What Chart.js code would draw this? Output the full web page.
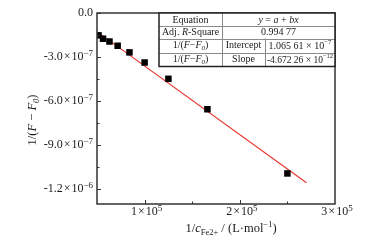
<!DOCTYPE html>
<html><head><meta charset="utf-8">
<script src="https://cdn.jsdelivr.net/npm/chart.js@4.4.1/dist/chart.umd.min.js"></script>
<style>html,body{margin:0;padding:0;background:#fff;} #wrap{width:370px;height:242px;position:relative;}</style>
</head><body><div id="wrap"><canvas id="c" width="370" height="242"></canvas></div>
<script>
// ---- data ----
const xValues = [51600, 56300, 63100, 71700, 84100, 100000, 125000, 166000, 250000];
const yValues = [-1.52e-7, -1.75e-7, -1.94e-7, -2.23e-7, -2.68e-7, -3.37e-7, -4.48e-7, -6.55e-7, -1.092e-6];
const fitX = [50000, 270000];
const fitY = [-1.27e-7, -1.155e-6];
const xTickValues = [100000, 200000, 300000];
const xTickLabels = ['1×10^5', '2×10^5', '3×10^5'];
const yTickValues = [0, -3e-7, -6e-7, -9e-7, -1.2e-6];
const yTickLabels = ['0.0', '-3.0×10^−7', '-6.0×10^−7', '-9.0×10^−7', '-1.2×10^−6'];
const eqText = [['y','i'],[' = '],['a','i'],[' + '],['bx','i']];
const adjR2 = '0.994 77';
const interceptText = [['1.065 61 × 10'],['−7','sup']];
const slopeText = [['-4.672 26 × 10'],['−12','sup']];

const SERIF = '"Liberation Serif", "Times New Roman", serif';
const TXT = '#1a1a1a';

function segFont(st, size) {
  const small = (st === 'sub' || st === 'sup' || st === 'isub' || st === 'tsup');
  const fs = st === 'tsup' ? size * 0.75 : (small ? size * 0.68 : size);
  return {font: ((st === 'i' || st === 'isub') ? 'italic ' : '') + fs + 'px ' + SERIF, small};
}
function richWidth(ctx, segs, size) {
  let w = 0;
  for (const s of segs) {
    const st = s[1] || '';
    ctx.font = segFont(st, size).font;
    w += ctx.measureText(s[0]).width + (st === 'pad' ? 2 : 0);
  }
  return w;
}
function drawRich(ctx, segs, x, y, size, align) {
  const w = richWidth(ctx, segs, size);
  let cx = align === 'center' ? x - w / 2 : (align === 'right' ? x - w : x);
  ctx.textBaseline = 'middle';
  ctx.textAlign = 'left';
  for (const s of segs) {
    const st = s[1] || '';
    ctx.font = segFont(st, size).font;
    let dy = 0;
    if (st === 'sub' || st === 'isub') dy = size * 0.3;
    if (st === 'sup') dy = -size * 0.35;
    if (st === 'tsup') dy = -size * 0.3;
    if (st === 'pad') cx += 1;
    ctx.fillText(s[0], cx, y + dy);
    cx += ctx.measureText(s[0]).width + (st === 'pad' ? 1 : 0);
  }
}
function tickSegs(label) {
  const i = label.indexOf('×');
  if (i < 0) return [[label]];
  const parts = label.slice(i + 1).split('^');
  return [[label.slice(0, i)], ['×', 'pad'], [parts[0]], [parts[1], 'tsup']];
}

const decor = {
  id: 'decor',
  afterDraw(chart) {
    const ctx = chart.ctx;
    const a = chart.chartArea;
    const xs = chart.scales.x, ys = chart.scales.y;
    ctx.save();
    // ticks (inward)
    ctx.strokeStyle = '#333';
    ctx.lineWidth = 1;
    ys.ticks.forEach(t => {
      const n = Math.round(t.value / 1e-7);
      if (Math.abs(t.value / 1.5e-7 - Math.round(t.value / 1.5e-7)) > 1e-6) return;
      const major = (n % 3 === 0);
      const py = Math.round(ys.getPixelForValue(t.value)) + 0.5;
      ctx.beginPath(); ctx.moveTo(a.left, py); ctx.lineTo(a.left + (major ? 4 : 2.5), py); ctx.stroke();
    });
    xs.ticks.forEach(t => {
      const n = Math.round(t.value / 5e4);
      if (n <= 1 || n >= 6) return;
      const major = (n % 2 === 0);
      const px = Math.round(xs.getPixelForValue(t.value)) + 0.5;
      ctx.beginPath(); ctx.moveTo(px, a.bottom); ctx.lineTo(px, a.bottom - (major ? 4 : 2.5)); ctx.stroke();
    });
    // frame
    ctx.strokeStyle = '#333';
    ctx.lineWidth = 1.5;
    ctx.strokeRect(a.left, a.top, a.right - a.left, a.bottom - a.top);

    // tick labels
    ctx.fillStyle = TXT;
    yTickValues.forEach((v, i) => {
      drawRich(ctx, tickSegs(yTickLabels[i]), a.left - 4, ys.getPixelForValue(v), 12, 'right');
    });
    xTickValues.forEach((v, i) => {
      drawRich(ctx, tickSegs(xTickLabels[i]), xs.getPixelForValue(v) + 2, a.bottom + 8, 12, 'center');
    });

    // table
    const x3 = a.right, x0 = x3 - 176, x1 = x0 + 63, x2 = x1 + 43;
    const y0 = a.top, y1 = y0 + 13, y2 = y1 + 12.5, y3 = y2 + 14, y4 = y3 + 14;
    ctx.fillStyle = '#fff';
    ctx.fillRect(x0, y0, x3 - x0, y4 - y0);
    ctx.strokeStyle = '#8a8a8a';
    ctx.lineWidth = 1;
    ctx.beginPath();
    [y1, y2, y3].forEach(yy => { ctx.moveTo(x0, Math.round(yy) + 0.5); ctx.lineTo(x3, Math.round(yy) + 0.5); });
    ctx.moveTo(Math.round(x1) + 0.5, y0); ctx.lineTo(Math.round(x1) + 0.5, y4);
    ctx.moveTo(Math.round(x2) + 0.5, y2); ctx.lineTo(Math.round(x2) + 0.5, y4);
    ctx.stroke();
    ctx.strokeStyle = '#222';
    ctx.lineWidth = 1.5;
    ctx.strokeRect(x0, y0, x3 - x0, y4 - y0);

    ctx.fillStyle = TXT;
    const fs = 10;
    const fLabel = [['1/('],['F','i'],['−'],['F','i'],['0','isub'],[')']];
    drawRich(ctx, [['Equation']], (x0 + x1) / 2, (y0 + y1) / 2 + 0.5, fs, 'center');
    drawRich(ctx, eqText, (x1 + x3) / 2, (y0 + y1) / 2 + 0.5, fs, 'center');
    drawRich(ctx, [['Adj. '],['R','i'],['-Square']], (x0 + x1) / 2, (y1 + y2) / 2 + 0.5, fs, 'center');
    drawRich(ctx, [[adjR2]], (x1 + x3) / 2, (y1 + y2) / 2 + 0.5, fs, 'center');
    drawRich(ctx, fLabel, (x0 + x1) / 2, (y2 + y3) / 2, fs, 'center');
    drawRich(ctx, [['Intercept']], (x1 + x2) / 2, (y2 + y3) / 2, fs, 'center');
    drawRich(ctx, interceptText, (x2 + x3) / 2, (y2 + y3) / 2 + 0.5, fs, 'center');
    drawRich(ctx, fLabel, (x0 + x1) / 2, (y3 + y4) / 2, fs, 'center');
    drawRich(ctx, [['Slope']], (x1 + x2) / 2, (y3 + y4) / 2, fs, 'center');
    drawRich(ctx, slopeText, (x2 + x3) / 2, (y3 + y4) / 2 + 0.5, 9.5, 'center');

    // axis titles
    drawRich(ctx, [['1/'],['c','i'],['Fe2+','sub'],[' / (L·mol'],['−1','sup'],[')']], 231, 229, 12.5, 'center');
    ctx.translate(33, 120);
    ctx.rotate(-Math.PI / 2);
    drawRich(ctx, [['1/('],['F','i'],[' − '],['F','i'],['0','isub'],[')']], 0, 0, 12.5, 'center');
    ctx.restore();
  }
};

new Chart(document.getElementById('c'), {
  type: 'scatter',
  data: {
    datasets: [
      {
        label: 'data',
        data: xValues.map((x, i) => ({x: x, y: yValues[i]})),
        pointStyle: 'rect',
        pointRadius: 4.6,
        pointHoverRadius: 4.6,
        backgroundColor: '#000',
        borderWidth: 0,
        showLine: false
      },
      {
        label: 'fit',
        data: fitX.map((x, i) => ({x: x, y: fitY[i]})),
        showLine: true,
        pointRadius: 0,
        borderColor: '#e8302a',
        borderWidth: 1.1,
        fill: false
      }
    ]
  },
  options: {
    responsive: false,
    animation: false,
    events: [],
    layout: {padding: {left: 0, top: 13, right: 35, bottom: 0}},
    plugins: {legend: {display: false}, tooltip: {enabled: false}},
    scales: {
      x: {
        type: 'linear', min: 50000, max: 300000,
        border: {display: false},
        grid: {display: false, drawTicks: false},
        ticks: {stepSize: 50000, autoSkip: false, display: false},
        afterFit: s => { s.height = 38; }
      },
      y: {
        type: 'linear', min: -1.3e-6, max: 0,
        border: {display: false},
        grid: {display: false, drawTicks: false},
        ticks: {stepSize: 1.5e-7, autoSkip: false, display: false},
        afterFit: s => { s.width = 97; }
      }
    }
  },
  plugins: [decor]
});
</script></body></html>
